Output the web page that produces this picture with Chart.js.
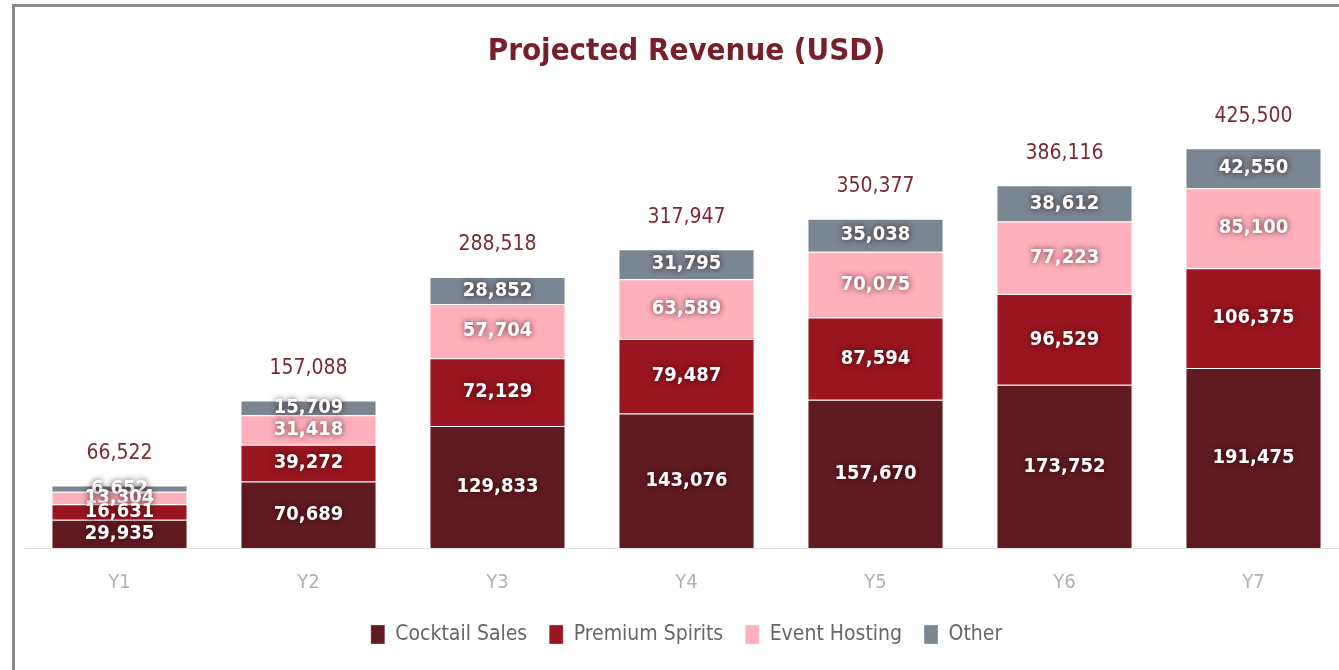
<!DOCTYPE html>
<html>
<head>
<meta charset="utf-8">
<script src="https://cdn.jsdelivr.net/npm/chart.js@4"></script>
<style>
  html, body { margin: 0; padding: 0; background: #fff; overflow: hidden; }
  #frame { position: absolute; left: 12px; top: 4px; width: 1400px; height: 720px; border: 3px solid #8c8c8c; }
  #wrap { position: absolute; left: 0; top: 0; width: 1372px; height: 670px; }
</style>
</head>
<body>
<div id="frame"></div>
<div id="wrap"><canvas id="revenue"></canvas></div>
<script>
// chart data
const years = ["Y1", "Y2", "Y3", "Y4", "Y5", "Y6", "Y7"];
const cocktailSales = [29935, 70689, 129833, 143076, 157670, 173752, 191475];
const premiumSpirits = [16631, 39272, 72129, 79487, 87594, 96529, 106375];
const eventHosting = [13304, 31418, 57704, 63589, 70075, 77223, 85100];
const other = [6652, 15709, 28852, 31795, 35038, 38612, 42550];

const FONT = "'Liberation Sans Narrow', 'DejaVu Sans Condensed', 'Liberation Sans', sans-serif";

function fmt(v) {
    return v.toLocaleString("en-US");
}

// draws the value inside each segment and the total above each stack
const stackLabels = {
    id: "stackLabels",
    afterDatasetsDraw(chart) {
        const ctx = chart.ctx;
        ctx.save();
        ctx.textAlign = "center";
        ctx.textBaseline = "middle";

        // segment values, top dataset first so the lower ones sit on top
        ctx.font = "bold 20px " + FONT;
        for (let d = chart.data.datasets.length - 1; d >= 0; d--) {
            const meta = chart.getDatasetMeta(d);
            meta.data.forEach((bar, i) => {
                const y = (bar.y + bar.base) / 2;
                ctx.shadowColor = "rgba(40,0,0,0.8)";
                ctx.shadowBlur = 6;
                ctx.fillStyle = "#ffffff";
                ctx.fillText(fmt(chart.data.datasets[d].data[i]), bar.x, y);
            });
        }

        // totals
        ctx.shadowColor = "transparent";
        ctx.shadowBlur = 0;
        ctx.font = "21px " + FONT;
        ctx.fillStyle = "#7a2a33";
        const topMeta = chart.getDatasetMeta(chart.data.datasets.length - 1);
        topMeta.data.forEach((bar, i) => {
            let total = 0;
            chart.data.datasets.forEach(ds => total += ds.data[i]);
            ctx.fillText(fmt(total), bar.x, bar.y - 32);
        });
        ctx.restore();
    }
};

const edge = "rgba(255,255,255,0.3)";

new Chart(document.getElementById("revenue"), {
    type: "bar",
    data: {
        labels: years,
        datasets: [
            { label: "Cocktail Sales", data: cocktailSales, backgroundColor: "#601b20", borderColor: edge, borderWidth: 1 },
            { label: "Premium Spirits", data: premiumSpirits, backgroundColor: "#9a1620", borderColor: edge, borderWidth: 1 },
            { label: "Event Hosting", data: eventHosting, backgroundColor: "#ffb0ba", borderColor: edge, borderWidth: 1 },
            { label: "Other", data: other, backgroundColor: "#7a8692", borderColor: edge, borderWidth: 1 }
        ]
    },
    options: {
        responsive: true,
        maintainAspectRatio: false,
        animation: false,
        layout: { padding: { left: 25, right: 24, top: 33, bottom: 15 } },
        plugins: {
            title: {
                display: true,
                text: "Projected Revenue (USD)",
                color: "#76202a",
                font: { family: FONT, size: 31, weight: "bold" },
                padding: { top: 0, bottom: 8 }
            },
            legend: {
                position: "bottom",
                labels: {
                    color: "#666",
                    font: { family: FONT, size: 21 },
                    boxWidth: 14,
                    boxHeight: 19,
                    padding: 22
                }
            },
            tooltip: { enabled: false }
        },
        scales: {
            x: {
                stacked: true,
                grid: { display: false, drawTicks: false },
                border: { display: true, color: "#dddddd" },
                ticks: { color: "#b0b0b0", font: { family: FONT, size: 20 }, padding: 23 },
                afterFit(scale) {
                    scale.height = 54;
                }
            },
            y: {
                stacked: true,
                display: false,
                min: 0,
                max: 500000
            }
        }
    },
    plugins: [stackLabels]
});
</script>
</body>
</html>
